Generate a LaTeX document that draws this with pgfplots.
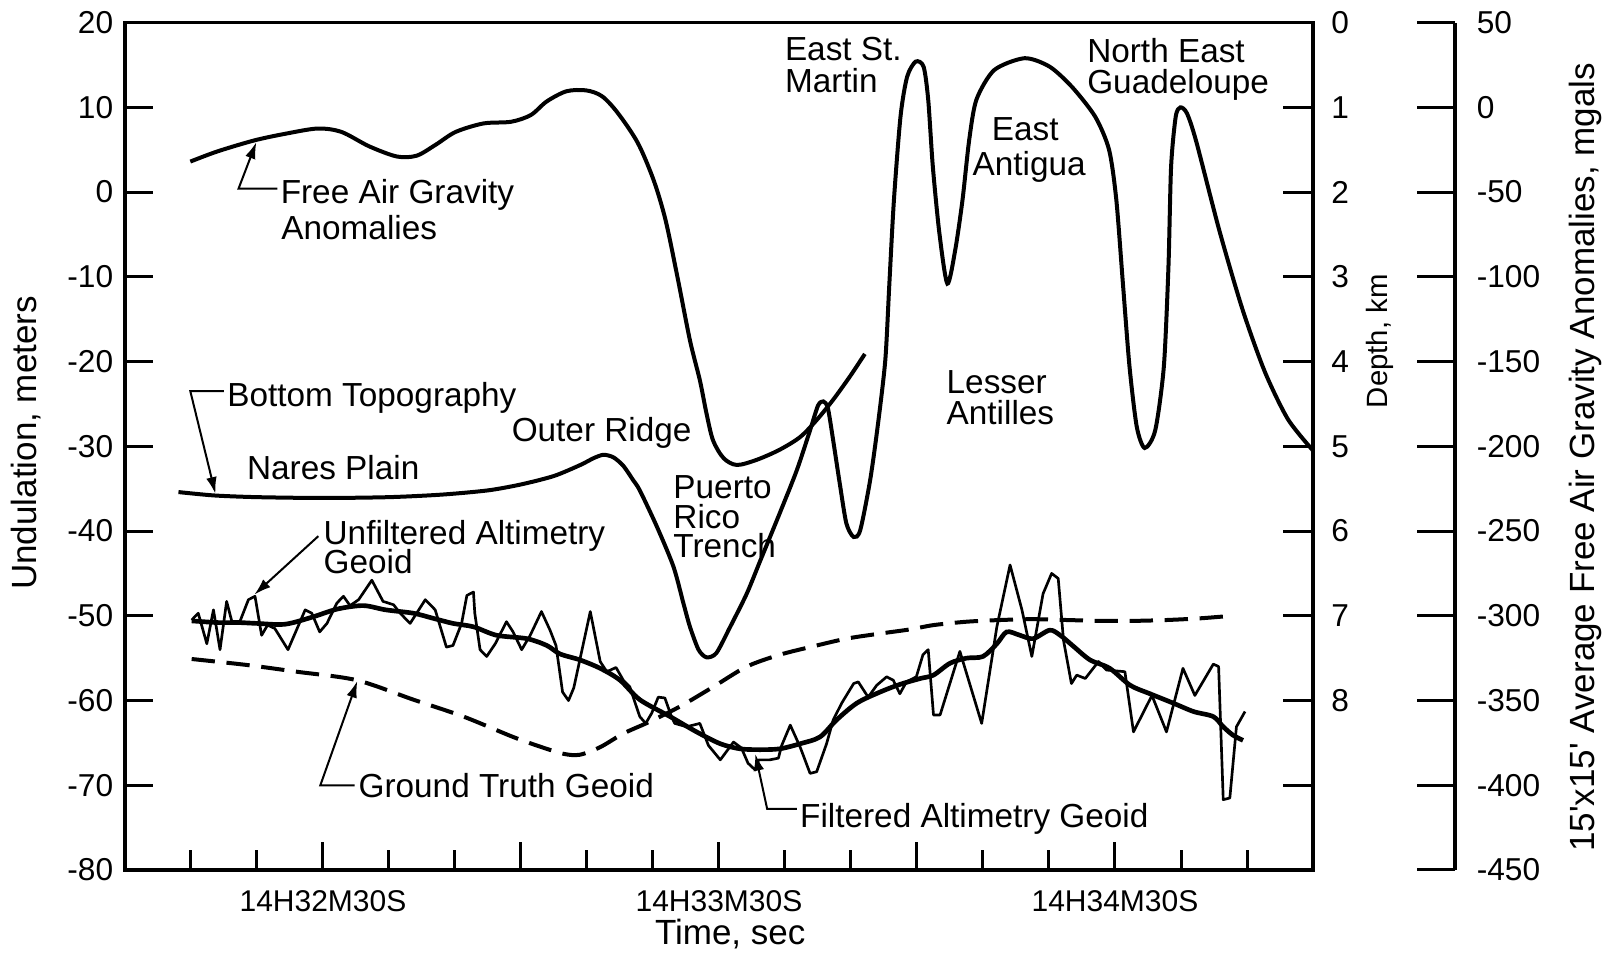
\documentclass[border=0pt]{standalone}
\usepackage{fontspec}
\setmainfont{Liberation Sans}
\usepackage{pgfplots}
\pgfplotsset{compat=1.18}
\usetikzlibrary{arrows.meta}
\newcommand\ann{\fontsize{10}{12}\selectfont}
\newcommand\ttl{\fontsize{10.5}{12}\selectfont}
\newcommand\tkl{\fontsize{9.5}{11}\selectfont}
\begin{document}
\begin{tikzpicture}
\useasboundingbox (-37.5pt,-25.8pt) rectangle (445.2pt,261.0pt);
\begin{axis}[
  at={(0pt,0pt)}, anchor=south west,
  scale only axis, width=356.4pt, height=254.22pt,
  xmin=0, xmax=180, ymin=-80, ymax=20,
  clip=false,
  axis line style={line width=1pt},
  tick align=inside,
  xtick pos=bottom, ytick pos=left,
  xtick={30,60,90,120,150},
  xticklabels={14H32M30S,,14H33M30S,,14H34M30S},
  minor xtick={10,20,40,50,70,80,100,110,130,140,160,170},
  ytick={-80,-70,...,20},
  yticklabels={-80,-70,-60,-50,-40,-30,-20,-10,0,10,20},
  major tick length=8.5pt, minor tick length=6pt,
  tick style={black, line width=0.9pt},
  yticklabel style={font=\tkl},
  xticklabel style={font=\fontsize{9}{11}\selectfont, yshift=-2.5pt},
]
% Free air gravity anomalies
\addplot[line width=1.2pt, smooth, tension=0.5] coordinates {
(9.9,3.6) (14,4.8) (19.6,6.1) (24.4,6.9) (29.2,7.5) (32.8,7.1) (37.0,5.4) (41.2,4.2) (44.2,4.3) (47.1,5.6) (50.1,7.1) (54.3,8.1) (58.5,8.3) (61.5,9.1) (63.9,10.7) (66.9,11.9) (69.9,12.0) (72.3,11.3) (74.7,9.3) (77.7,5.8) (80.1,1.4) (81.9,-3.3) (83.7,-10.0) (85.6,-17.5) (87.1,-22.2) (88.1,-26.1) (89.1,-29.3) (90.7,-31.4) (92.7,-32.2) (95.7,-31.6) (99.2,-30.4) (102.3,-28.9) (104.8,-26.9) (107.3,-24.5) (109.8,-21.8) (112.1,-19.1)
};
% Bottom topography
\addplot[line width=1.2pt, smooth, tension=0.45] coordinates {
(8.1,-35.4) (13.5,-35.8) (20,-36.0) (30,-36.1) (40,-36.0) (48,-35.7) (55,-35.2) (60,-34.5) (65,-33.5) (69,-32.2) (71,-31.4) (72.5,-31.0) (74,-31.3) (75.5,-32.3) (77,-34.0) (78,-35.2) (80.6,-39.5) (83.1,-44.2) (84.6,-48.5) (85.6,-51.3) (86.9,-54.0) (88.1,-54.9) (89.6,-54.4) (91.7,-51.3) (94.2,-47.4) (96.2,-43.6) (99.2,-37.9) (101.8,-32.8) (103.8,-28.1) (105.0,-25.2) (105.8,-24.7) (106.5,-25.5) (107.3,-29.3) (108.3,-34.4) (109.3,-39.1) (110.4,-40.7) (111.4,-39.9) (112.9,-34.0) (114.1,-27.3) (115.2,-19.8) (115.8,-11) (116.5,-1) (117.5,8.9) (118.5,13.6) (119.8,15.4) (121.0,14.8) (121.7,10.9) (122.4,3.0) (123.4,-4.9) (124.6,-10.8) (125.8,-6.8) (126.9,-0.9) (127.9,6.1) (129.0,10.9) (131.7,14.4) (136.3,15.8) (140.1,14.8) (143.5,12.4) (147.0,8.9) (149.1,5.0) (150.2,-0.9) (151.2,-10.8) (152.2,-20.6) (153.3,-27.7) (154.5,-30.2) (156.1,-28.1) (157.4,-20.6) (158.1,-8.8) (158.5,3.0) (159.2,8.9) (159.9,10.0) (160.9,9.3) (162.3,6.0) (165.8,-4.5) (169.3,-13.8) (172.7,-21.2) (176.2,-26.8) (180,-30.5)
};
% Ground truth geoid (dashed)
\addplot[line width=1.2pt, dash pattern=on 7pt off 3.5pt, smooth] coordinates {
(10.1,-55.1) (18.4,-55.8) (26.0,-56.6) (35.1,-57.6) (43.7,-59.9) (51.3,-61.9) (58.8,-64.3) (63.5,-65.6) (66.5,-66.3) (68.9,-66.4) (72.0,-65.5) (75.5,-63.9) (79.5,-62.5) (84.1,-60.7) (89.1,-58.4) (94.2,-56.0) (99.2,-54.6) (104.3,-53.6) (109.3,-52.7) (114.4,-52.1) (119,-51.6) (122.5,-51.1) (127.5,-50.7) (132.6,-50.5) (137.6,-50.4) (142.7,-50.5) (147.7,-50.6) (152.8,-50.6) (157.8,-50.5) (162.9,-50.3) (167.7,-50.0)
};
% Filtered altimetry geoid
\addplot[line width=1.4pt, smooth] coordinates {
(10.1,-50.6) (14,-50.8) (17.2,-50.8) (20,-50.9) (24.2,-51.0) (28.2,-50.2) (32.2,-49.2) (36.1,-48.8) (39.5,-49.3) (43.7,-49.7) (46.7,-50.3) (49.7,-50.9) (52.8,-51.3) (56.3,-52.3) (60.9,-52.7) (63.9,-53.5) (65.9,-54.5) (68.9,-55.2) (72.0,-56.2) (75.0,-57.6) (78.0,-59.9) (82.6,-61.9) (86.6,-63.7) (90.2,-65.1) (93.2,-65.7) (96.2,-65.8) (99.2,-65.7) (102.3,-65.1) (105.3,-64.3) (107.8,-62.3) (110.9,-60.3) (114.4,-59.0) (117.4,-58.1) (120.5,-57.4) (122.5,-57.0) (125.0,-55.6) (127.5,-55.0) (130.0,-54.8) (132.1,-53.3) (133.6,-51.9) (135.6,-52.3) (137.6,-52.7) (140.1,-51.7) (141.7,-52.3) (143.7,-53.6) (146.2,-55.2) (149.2,-56.2) (152.3,-58.2) (155.3,-59.2) (158.8,-60.3) (161.9,-61.3) (164.9,-61.9) (166.4,-63.1) (167.9,-64.1) (169.4,-64.7)
};
% Unfiltered altimetry geoid
\addplot[line width=0.8pt, line join=round] coordinates {
(10.1,-50.5) (11.1,-49.7) (12.4,-53.3) (13.4,-49.3) (14.4,-54.0) (15.4,-48.3) (16.2,-50.7) (17.4,-50.7) (18.7,-48.1) (19.7,-47.7) (20.7,-52.3) (21.6,-51.1) (22.7,-51.5) (24.7,-54.0) (27.3,-49.3) (28.3,-49.7) (29.5,-51.9) (30.6,-50.9) (32.1,-48.5) (33.1,-47.7) (34.1,-48.8) (35.4,-48.1) (37.4,-45.8) (39.1,-48.3) (40.7,-48.7) (41.7,-49.7) (43.2,-50.9) (45.5,-48.1) (47.0,-49.3) (48.7,-53.7) (49.7,-53.5) (51.0,-50.9) (51.8,-47.6) (52.8,-47.2) (53.0,-49.7) (53.8,-54.0) (54.8,-54.8) (56.1,-53.3) (57.8,-50.7) (58.8,-51.9) (60.1,-54.0) (61.4,-52.3) (63.1,-49.5) (64.4,-51.7) (65.3,-53.5) (66.3,-59.0) (67.2,-60.0) (68.0,-58.5) (70.5,-49.5) (72.0,-55.4) (73.0,-56.6) (74.4,-56.1) (75.5,-57.6) (76.5,-58.4) (77.3,-60.3) (78.0,-61.9) (78.9,-62.7) (79.8,-61.5) (80.8,-59.6) (81.8,-59.7) (82.8,-61.9) (83.3,-62.7) (85.1,-63.1) (87.1,-62.7) (88.4,-65.3) (90.2,-67.0) (92.2,-64.9) (93.4,-65.6) (94.4,-67.4) (95.5,-68.2) (96.0,-67.0) (97.7,-67.0) (99.0,-66.8) (99.5,-65.3) (100.8,-62.9) (102.3,-65.5) (103.8,-68.6) (104.8,-68.4) (106.3,-65.1) (107.3,-62.3) (108.6,-60.3) (110.4,-58.0) (111.1,-57.8) (112.6,-59.6) (113.9,-58.2) (115.4,-57.2) (116.4,-57.6) (117.4,-59.2) (118.4,-57.8) (119.9,-57.2) (120.9,-54.6) (121.7,-54.0) (122.5,-61.7) (123.5,-61.7) (126.5,-54.2) (129.8,-62.7) (132.1,-51.3) (134.1,-44.0) (135.9,-49.3) (137.4,-54.8) (139.1,-47.4) (140.4,-45.0) (141.4,-45.6) (142.2,-52.9) (143.4,-58.0) (144.2,-57.0) (145.5,-57.4) (147.5,-55.4) (148.7,-56.4) (151.5,-56.6) (152.8,-63.7) (155.6,-59.4) (157.8,-63.7) (160.3,-56.2) (162.1,-59.4) (164.9,-55.7) (165.7,-56.0) (166.4,-71.7) (167.4,-71.5) (168.4,-63.1) (169.7,-61.3)
};
% annotation leaders
\draw[line width=0.6pt, -{Latex[length=5pt,width=3.2pt]}] (23.1,0.4) -- (17.2,0.4) -- (19.9,5.9);
\draw[line width=0.6pt, -{Latex[length=5pt,width=3.2pt]}] (15.0,-23.5) -- (9.9,-23.5) -- (13.7,-35.6);
\draw[line width=0.6pt, -{Latex[length=5pt,width=3.2pt]}] (29.3,-40.6) -- (19.6,-47.5);
\draw[line width=0.6pt, -{Latex[length=5pt,width=3.2pt]}] (34.8,-70.0) -- (29.6,-70.0) -- (35.2,-57.7);
\draw[line width=0.6pt, -{Latex[length=5pt,width=3.2pt]}] (101.8,-72.8) -- (97.3,-72.8) -- (95.5,-66.3);
% annotation texts
\begin{scope}[every node/.style={inner sep=0pt, font=\ann}]
\node[anchor=base west] at (23.5,-1.3) {Free Air Gravity};
\node[anchor=base west] at (23.6,-5.65) {Anomalies};
\node[anchor=base west] at (15.4,-25.25) {Bottom Topography};
\node[anchor=base west] at (18.4,-33.95) {Nares Plain};
\node[anchor=base west] at (58.5,-29.45) {Outer Ridge};
\node[anchor=base west] at (83.0,-36.15) {Puerto};
\node[anchor=base west] at (83.0,-39.65) {Rico};
\node[anchor=base west] at (83.0,-43.15) {Trench};
\node[anchor=base west] at (99.9,15.5) {East St.};
\node[anchor=base west] at (99.9,11.7) {Martin};
\node[anchor=base west] at (145.7,15.25) {North East};
\node[anchor=base west] at (145.7,11.65) {Guadeloupe};
\node[anchor=base] at (136.4,6.1) {East};
\node[anchor=base] at (137.0,2.0) {Antigua};
\node[anchor=base west] at (124.4,-23.75) {Lesser};
\node[anchor=base west] at (124.4,-27.45) {Antilles};
\node[anchor=base west] at (30.0,-41.55) {Unfiltered Altimetry};
\node[anchor=base west] at (30.0,-45.05) {Geoid};
\node[anchor=base west] at (35.3,-71.4) {Ground Truth Geoid};
\node[anchor=base west] at (102.2,-75.0) {Filtered Altimetry Geoid};
\end{scope}
\node[rotate=90, font=\ttl] at (-15.0,-29.6) {Undulation, meters};
\node[font=\ttl] at (91.7,-87.6) {Time, sec};
\end{axis}
% depth axis
\begin{axis}[
  at={(0pt,0pt)}, anchor=south west,
  scale only axis, width=356.4pt, height=254.22pt,
  xmin=0, xmax=180, ymin=0, ymax=10, y dir=reverse,
  hide x axis, axis y line*=right, clip=false,
  axis line style={line width=1pt},
  tick align=inside,
  ytick={0,...,9}, yticklabels={0,1,2,3,4,5,6,7,8,{}},
  major tick length=9pt,
  tick style={black, line width=0.9pt},
  yticklabel style={font=\tkl, xshift=2pt},
]
\addplot[draw=none] coordinates {(90,5)};
\node[rotate=90, font=\fontsize{8.8}{10}\selectfont] at (190.2,3.76) {Depth, km};
\end{axis}
% gravity axis
\begin{axis}[
  at={(379pt,0pt)}, anchor=south west,
  scale only axis, width=20pt, height=254.22pt,
  xmin=0, xmax=1, ymin=-450, ymax=50,
  hide x axis, axis y line*=right, clip=false,
  axis line style={line width=1pt},
  tick align=inside,
  ytick={-450,-400,...,50},
  yticklabels={-450,-400,-350,-300,-250,-200,-150,-100,-50,0,50},
  major tick length=11.4pt,
  tick style={black, line width=0.9pt},
  yticklabel style={font=\tkl, xshift=3pt},
]
\addplot[draw=none] coordinates {(0.5,0)};
\node[rotate=90, font=\ttl] at (2.95,-206.5) {15\textquotesingle x15\textquotesingle\ Average Free Air Gravity Anomalies, mgals};
\end{axis}
\end{tikzpicture}
\end{document}
